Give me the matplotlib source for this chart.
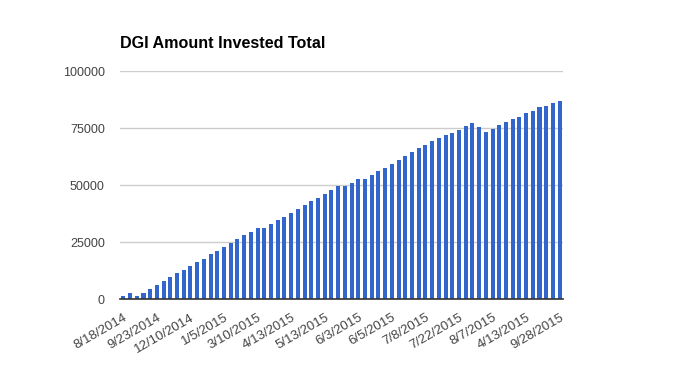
import matplotlib
matplotlib.use("Agg")
import matplotlib.pyplot as plt
import numpy as np

plt.rcParams['font.family'] = ['Liberation Sans', 'DejaVu Sans']

values = [1500, 2800, 1500, 2800, 4500, 6300, 8000, 9800, 11550, 12900,
          14600, 16400, 17700, 19900, 21200, 22950, 24700, 26450, 28200, 29550,
          31300, 31300, 33050, 34800, 36100, 37850, 39600, 41400, 43150, 44450,
          46200, 47950, 49700, 49700, 51000, 52800, 52800, 54550, 56300, 57600,
          59350, 61100, 62850, 64600, 66400, 67700, 69450, 70750, 72100, 72950,
          74300, 76000, 77350, 75600, 73400, 74700, 76450, 77800, 79100, 80000,
          81700, 82600, 84350, 84800, 86100, 87000]
tick_labels = ["8/18/2014", "9/23/2014", "12/10/2014", "1/5/2015", "3/10/2015",
               "4/13/2015", "5/13/2015", "6/3/2015", "6/5/2015", "7/8/2015",
               "7/22/2015", "8/7/2015", "4/13/2015", "9/28/2015"]
y_ticks = [0, 25000, 50000, 75000, 100000]
title = "DGI Amount Invested Total"

fig = plt.figure(figsize=(6.83, 3.71), dpi=100)
ax = fig.add_axes([120/683, (371-299.3)/371, 443/683, 228/371])

x = np.arange(len(values))
ax.bar(x, values, width=0.6, color="#3366cc", zorder=3)
ax.set_xlim(-0.5, len(values) - 0.5)
ax.set_ylim(0, 100000)
ax.set_yticks(y_ticks)
ax.set_yticklabels([str(v) for v in y_ticks], color="#444444", fontsize=9)
ax.yaxis.grid(True, color="#cccccc", linewidth=1, zorder=0)
ax.set_xticks(x[::5])
ax.set_xticklabels(tick_labels, rotation=30, ha="right", va="top",
                   rotation_mode="anchor", fontsize=9.5, color="#444444")
ax.tick_params(axis="both", length=0)
ax.tick_params(axis="y", pad=11)
ax.tick_params(axis="x", pad=9)
for s in ["top", "right", "left"]:
    ax.spines[s].set_visible(False)
ax.spines["bottom"].set_color("#333333")
ax.spines["bottom"].set_linewidth(1.2)
ax.spines["bottom"].set_zorder(4)

fig.text(120/683, (371-48.3)/371, title, fontsize=11.6, fontweight="bold",
         ha="left", va="baseline", color="#000000")

fig.savefig("out.png", dpi=100)
